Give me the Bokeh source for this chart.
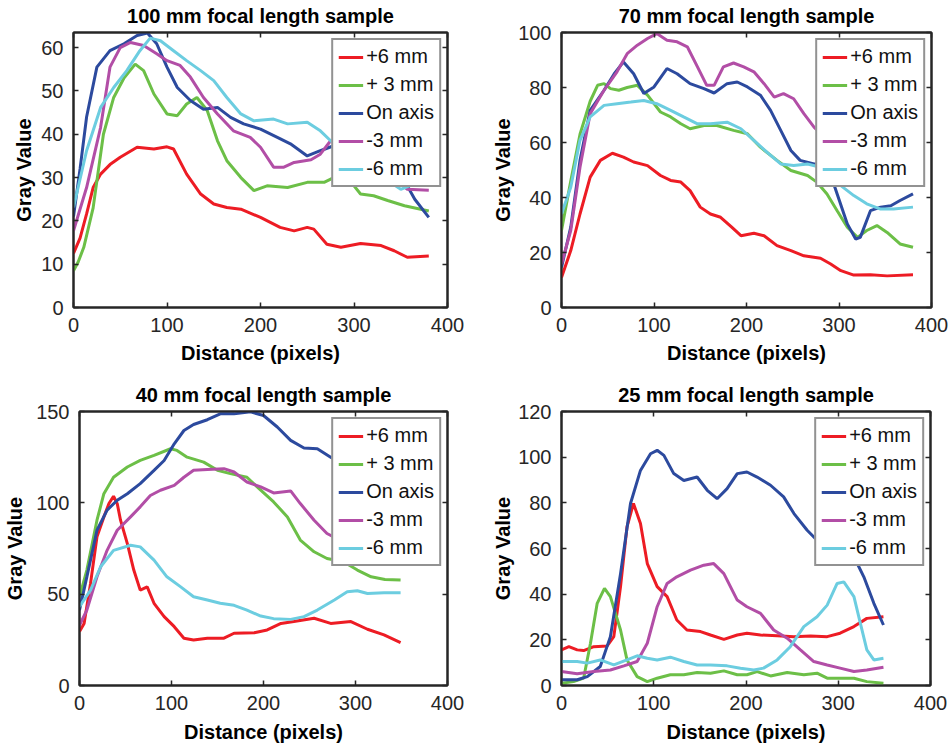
from bokeh.plotting import figure
from bokeh.layouts import column, row
from bokeh.models import Range1d, SingleIntervalTicker, LinearAxis, CustomJSTickFormatter
from bokeh.embed import file_html
from bokeh.resources import INLINE

# ---------------- data ----------------
labels = ["+6 mm", "+ 3 mm", "On axis", "-3 mm", "-6 mm"]
colors = ["#ed1c24", "#6cbf47", "#2c4a9e", "#b24ea6", "#6ccde0"]

# 100 mm
f100_p6_x = [0, 7, 14, 21, 29, 39, 50, 68, 86, 100, 107, 121, 136, 150, 164, 179, 200, 221, 236, 250, 257, 271, 286, 307, 329, 343, 357, 380]
f100_p6_y = [12.5, 16, 21.6, 27.7, 30.8, 33, 34.7, 37, 36.6, 37.1, 36.6, 30.8, 26.2, 23.9, 23.1, 22.7, 20.8, 18.5, 17.7, 18.5, 18.1, 14.6, 13.9, 14.8, 14.3, 13.1, 11.6, 11.9]
f100_p3_x = [0, 5, 11, 21, 32, 43, 54, 66, 75, 86, 100, 111, 121, 132, 143, 154, 164, 179, 193, 207, 229, 250, 268, 286, 293, 307, 321, 336, 354, 380]
f100_p3_y = [8.5, 10.5, 13.9, 23, 40, 48.5, 53, 56.2, 54.7, 49.3, 44.7, 44.3, 47, 48.5, 45.5, 38.5, 33.9, 30, 27, 28.1, 27.7, 28.9, 28.9, 30.8, 30, 26.2, 25.8, 24.7, 23.5, 22.3]
f100_on_x = [0, 7, 14, 25, 39, 54, 68, 79, 89, 100, 111, 125, 139, 154, 168, 182, 200, 218, 232, 250, 264, 279, 300, 325, 340, 350, 365, 380]
f100_on_y = [21, 32, 44, 55.5, 59.3, 60.9, 62.8, 63.4, 60.9, 55.5, 50.8, 47.8, 45.8, 46.2, 43.9, 42.4, 41.2, 39.3, 37.8, 35, 36.2, 37.4, 37.5, 36, 33.5, 30.8, 25, 20.8]
f100_m3_x = [0, 14, 29, 39, 50, 61, 75, 89, 100, 114, 125, 139, 154, 171, 189, 200, 214, 225, 236, 254, 264, 275, 290, 310, 330, 346, 357, 380]
f100_m3_y = [17.7, 27.7, 41.6, 55.5, 60, 61.2, 60.5, 58.6, 57, 55.9, 53.2, 48.5, 44.7, 40.8, 39.3, 37, 32.4, 32.4, 33.5, 34.1, 35.4, 38.5, 38, 35, 31.5, 29.3, 27.3, 27.1]
f100_m6_x = [0, 14, 29, 43, 57, 71, 82, 93, 107, 121, 136, 150, 164, 179, 193, 214, 229, 250, 264, 275, 295, 314, 336, 350, 364, 380]
f100_m6_y = [23.1, 36.2, 46.2, 50.8, 54.7, 59.3, 62.2, 61.6, 59.3, 57, 54.7, 52.4, 48.5, 44.7, 43.1, 43.5, 42.4, 42.8, 40.8, 38.5, 34.5, 30.8, 29.3, 27.3, 28.5, 30]

# 70 mm
f70_p6_x = [0, 10, 20, 31, 42, 55, 67, 78, 93, 107, 118, 129, 139, 150, 161, 172, 184, 194, 208, 219, 233, 248, 262, 280, 291, 302, 316, 334, 352, 380]
f70_p6_y = [10.9, 20.7, 34, 47.4, 53.5, 56.1, 54.7, 52.9, 51.6, 48, 46.2, 45.6, 42.5, 36.5, 34, 32.8, 29.2, 26.1, 27, 26.1, 22.5, 20.7, 18.8, 17.9, 15.8, 13.4, 11.8, 11.9, 11.5, 11.9]
f70_p3_x = [0, 10, 20, 31, 39, 46, 53, 62, 71, 82, 93, 107, 118, 129, 139, 154, 168, 186, 201, 215, 233, 248, 266, 276, 287, 298, 309, 320, 330, 341, 352, 366, 380]
f70_p3_y = [28, 46, 63, 75, 80.8, 81.4, 79.6, 79, 80, 80.8, 77.2, 71.1, 69.3, 66.8, 65, 66.2, 66.2, 64.4, 63.2, 58.3, 53.5, 49.8, 48, 45.6, 41.3, 35.2, 29.2, 25.5, 28, 29.8, 27.3, 23.1, 21.9]
f70_on_x = [0, 10, 20, 31, 46, 57, 67, 78, 89, 100, 114, 125, 139, 154, 165, 179, 190, 201, 215, 226, 237, 248, 258, 273, 287, 298, 309, 318, 323, 334, 345, 356, 366, 380]
f70_on_y = [14.6, 29.2, 53.5, 71.7, 79, 85, 89.3, 85, 77.8, 80.2, 86.9, 85, 81.4, 79.6, 78, 81.4, 82, 80.2, 77.2, 71.7, 64.4, 57.1, 53.5, 52.2, 52.2, 41.3, 30.4, 24.9, 25.5, 35.2, 36.5, 37, 38.9, 41.3]
f70_m3_x = [0, 10, 20, 31, 46, 60, 71, 82, 93, 103, 114, 125, 136, 147, 157, 165, 175, 186, 197, 208, 219, 230, 240, 251, 262, 273, 290, 310, 330, 341, 355, 370, 380]
f70_m3_y = [15.8, 28, 51, 70.5, 79, 85.7, 92.3, 95.4, 97.8, 99.6, 97.2, 96.6, 94.8, 87.5, 80.8, 80.8, 87.5, 88.9, 87.5, 85.7, 81.4, 76.5, 77.8, 75.9, 70.5, 65.6, 60, 55, 51, 50, 53, 56, 58]
f70_m6_x = [0, 10, 20, 31, 46, 60, 75, 89, 103, 118, 132, 147, 161, 179, 194, 208, 222, 237, 251, 266, 280, 291, 302, 316, 330, 345, 359, 380]
f70_m6_y = [34, 43.7, 60.8, 69.3, 73.5, 74.1, 74.7, 75.3, 74.1, 71.7, 69.3, 66.8, 66.8, 67.4, 65, 60.8, 56.5, 52.2, 51.6, 52.2, 51, 48.6, 44.3, 40.7, 37.7, 35.8, 35.8, 36.5]

# 40 mm
f40_p6_x = [0, 5, 12, 19, 26.5, 32, 37, 41, 44.6, 52, 59, 66, 73.6, 81, 92, 103, 113.5, 124, 139, 157, 168, 190, 204, 219, 233, 255, 273, 295, 313, 331, 349]
f40_p6_y = [29.5, 34, 55.9, 81.4, 92.3, 99.6, 103.6, 99.6, 90.5, 77.7, 63.2, 52.2, 54, 45, 37.7, 32.2, 25.9, 24.9, 25.9, 25.9, 28.6, 28.9, 30.4, 34, 35, 36.8, 34, 35, 30.8, 27.7, 23.5]
f40_p3_x = [0, 8, 19, 26.5, 37, 52, 66, 81, 99, 106, 117, 135, 150, 164, 182, 197, 211, 226, 240, 255, 269, 287, 302, 317, 332, 349]
f40_p3_y = [48.6, 63.2, 90.5, 105, 114, 119.6, 123.2, 126, 129.6, 128.7, 125, 122.3, 117.8, 116, 114, 106.9, 100.5, 92.3, 79.6, 73.2, 69.5, 67.7, 63.2, 59.5, 58, 57.7]
f40_on_x = [0, 8, 19, 30, 41, 52, 66, 81, 92, 103, 113.5, 124, 139, 153, 168, 186, 200, 215, 229.5, 244, 258.5, 273, 290, 310, 330, 349]
f40_on_y = [41.3, 59.5, 85, 96, 101.4, 105, 110.5, 117.8, 123.2, 132.3, 139.6, 142.9, 145.5, 148.7, 148.7, 149.8, 147.8, 141.5, 134.2, 130, 129.6, 125, 120, 115, 110, 105]
f40_m3_x = [0, 8, 19, 30, 41, 55.5, 66, 77, 88, 103, 113.5, 124, 139, 157, 168, 182, 197, 211, 229.5, 240, 255, 269, 285, 310, 330, 349]
f40_m3_y = [33, 41.3, 59.5, 74, 85, 92.3, 97.8, 104, 106.9, 109.6, 114, 117.8, 118.3, 118.7, 116.9, 111.4, 108.7, 105.4, 106.5, 99.6, 90.5, 83.2, 79, 77, 76, 75]
f40_m6_x = [0, 12, 23, 37, 55.5, 66, 81, 95, 110, 124, 139, 153, 168, 182, 197, 211, 229.5, 244, 258.5, 277, 291, 302, 313, 331, 349]
f40_m6_y = [43.1, 52.2, 65, 74, 76.8, 75.9, 68.6, 59.5, 54, 48.6, 46.8, 45, 43.9, 41.3, 38, 36.6, 36.2, 37.7, 41.3, 46.8, 51.3, 51.9, 50.4, 50.8, 50.8]

# 25 mm
f25_p6_x = [0, 8, 17, 24, 35, 49.5, 56.7, 64, 71, 78, 85.6, 93, 103.7, 114.5, 125, 136, 150.7, 161.5, 176, 190.5, 201, 215.7, 233.8, 251.9, 270, 288, 302, 317, 331, 349]
f25_p6_y = [15.6, 17, 15.6, 15.3, 17, 17.3, 21.4, 43.3, 69.5, 79.7, 70.9, 53.4, 43.3, 38.9, 28.7, 24.3, 23.6, 22.1, 20.2, 22.1, 22.9, 22.1, 21.8, 21.4, 21.7, 21.4, 22.9, 25.8, 29.4, 30.1]
f25_p3_x = [0, 13, 24, 31.4, 38.7, 46.6, 53, 64, 71, 82, 93, 103.7, 118, 132.6, 147, 161.5, 176, 190.5, 201, 212, 226.6, 244.6, 262.7, 277, 288, 302, 317, 331, 349]
f25_p3_y = [1, 1.7, 3.2, 18.5, 36, 42.5, 38.9, 24.3, 11.2, 3.9, 1.7, 3.2, 4.7, 4.7, 5.7, 5.4, 6.4, 4.7, 4.7, 6.1, 4.2, 5.7, 4.7, 5.4, 3.2, 3.2, 3.2, 1.7, 1]
f25_on_x = [0, 17, 28, 42, 53, 64, 74.8, 85.6, 96.5, 103.7, 111, 121.7, 132.6, 147, 158, 168.7, 179.5, 190.5, 201, 212, 226.6, 240.8, 252, 266.3, 277, 288, 302, 317, 327.7, 338.6, 349]
f25_on_y = [2.5, 2.5, 3.9, 8.3, 21.4, 49, 79.7, 94.2, 101.5, 103, 100.8, 92.8, 89.8, 91.3, 85.5, 81.8, 86.2, 92.8, 93.5, 91.3, 87.7, 82.6, 75.3, 68, 63.6, 61.5, 59.3, 56.4, 47.6, 36, 26.5]
f25_m3_x = [0, 17, 35, 53, 67.6, 82, 93, 103.7, 114.5, 125, 139.8, 154.3, 165, 176, 190.5, 201, 215.7, 230, 244.6, 259, 273.5, 288, 302, 317, 331, 349]
f25_m3_y = [6.1, 5.1, 6.1, 6.8, 8.6, 10.5, 18.5, 34.5, 44.7, 47.6, 50.5, 52.7, 53.4, 49, 37.4, 34.5, 31.6, 24.3, 20.7, 15.6, 10.5, 9, 7.6, 6.1, 6.8, 8]
f25_m6_x = [0, 17, 28, 42, 56.7, 71, 82, 93, 103.7, 118, 132.6, 147, 161.5, 179.5, 194, 208.5, 219, 233.8, 248, 262.7, 277, 288, 298.8, 306, 317, 324, 331, 338.6, 349]
f25_m6_y = [10.5, 10.5, 9.8, 11.2, 9, 11.2, 13, 11.9, 11.2, 12.4, 10.5, 9, 9, 8.6, 7.6, 6.8, 7.6, 11.2, 17, 25.8, 30.1, 35.2, 44.7, 45.4, 38.9, 27.2, 15.6, 11.2, 11.9]

titles = ["100 mm focal length sample", "70 mm focal length sample",
          "40 mm focal length sample", "25 mm focal length sample"]
y_max = [63.5, 100, 150, 120]
y_step = [10, 20, 50, 20]
x_ticks_step = 100

FONT = "Liberation Sans"
AX = "#262626"


def make_panel(title, series, ymax, ystep, width, height, bl, br, bt, bb, ylab_standoff, xlab_standoff):
    p = figure(width=width, height=height, output_backend="svg", toolbar_location=None,
               x_range=Range1d(0, 400), y_range=Range1d(0, ymax),
               min_border_left=bl, min_border_right=br, min_border_top=bt, min_border_bottom=bb,
               background_fill_color="white", border_fill_color="white")
    p.grid.visible = False
    p.outline_line_color = AX
    p.outline_line_width = 2
    p.title.text = title
    p.title.text_font = FONT
    p.title.text_font_size = "20px"
    p.title.text_font_style = "bold"
    p.title.text_color = "black"
    p.title.align = "center"
    p.title.standoff = 4

    p.xaxis.ticker = SingleIntervalTicker(interval=x_ticks_step)
    p.yaxis.ticker = SingleIntervalTicker(interval=ystep)
    for ax in (p.xaxis[0], p.yaxis[0]):
        ax.axis_line_color = AX
        ax.axis_line_width = 2
        ax.major_tick_in = 5
        ax.major_tick_out = 0
        ax.major_tick_line_color = AX
        ax.major_tick_line_width = 1.5
        ax.minor_tick_line_color = None
        ax.major_label_text_font = FONT
        ax.major_label_text_font_size = "20px"
        ax.major_label_text_color = AX
        ax.axis_label_text_font = FONT
        ax.axis_label_text_font_size = "20px"
        ax.axis_label_text_font_style = "bold"
        ax.axis_label_text_color = "black"
    p.xaxis.axis_label = "Distance (pixels)"
    p.xaxis.major_label_standoff = 6
    p.xaxis.axis_label_standoff = xlab_standoff
    p.yaxis.axis_label = "Gray Value"
    p.yaxis.major_label_standoff = 6
    p.yaxis.axis_label_standoff = ylab_standoff

    # mirrored ticks on top and right (no labels)
    for loc, step in (("above", x_ticks_step), ("right", ystep)):
        a = LinearAxis(ticker=SingleIntervalTicker(interval=step),
                       formatter=CustomJSTickFormatter(code="return ''"))
        a.major_label_standoff = 0
        a.major_tick_in = 5
        a.major_tick_out = 0
        a.major_tick_line_color = AX
        a.major_tick_line_width = 1.5
        a.minor_tick_line_color = None
        a.axis_line_color = AX
        a.axis_line_width = 2
        p.add_layout(a, loc)

    for (xs, ys), lab, col in zip(series, labels, colors):
        p.line(xs, ys, line_color=col, line_width=3, legend_label=lab)

    lg = p.legend[0]
    lg.location = "top_right"
    lg.margin = 6
    lg.padding = 5
    lg.spacing = 5
    lg.glyph_width = 25
    lg.glyph_height = 20
    lg.label_height = 20
    lg.label_standoff = 3
    lg.label_text_font = FONT
    lg.label_text_font_size = "20px"
    lg.label_text_color = "#111111"
    lg.border_line_color = AX
    lg.border_line_width = 2
    lg.background_fill_color = "white"
    lg.background_fill_alpha = 1.0
    return p


s100 = [(f100_p6_x, f100_p6_y), (f100_p3_x, f100_p3_y), (f100_on_x, f100_on_y), (f100_m3_x, f100_m3_y), (f100_m6_x, f100_m6_y)]
s70 = [(f70_p6_x, f70_p6_y), (f70_p3_x, f70_p3_y), (f70_on_x, f70_on_y), (f70_m3_x, f70_m3_y), (f70_m6_x, f70_m6_y)]
s40 = [(f40_p6_x, f40_p6_y), (f40_p3_x, f40_p3_y), (f40_on_x, f40_on_y), (f40_m3_x, f40_m3_y), (f40_m6_x, f40_m6_y)]
s25 = [(f25_p6_x, f25_p6_y), (f25_p3_x, f25_p3_y), (f25_on_x, f25_on_y), (f25_m3_x, f25_m3_y), (f25_m6_x, f25_m6_y)]

p1 = make_panel(titles[0], s100, y_max[0], y_step[0], 470, 370, 73, 23, 32, 63, 3, 7)
p2 = make_panel(titles[1], s70, y_max[1], y_step[1], 479, 370, 91, 18, 32, 63, 1, 7)
p3 = make_panel(titles[2], s40, y_max[2], y_step[2], 470, 375, 79, 23, 41, 59, 7, 8)
p4 = make_panel(titles[3], s25, y_max[3], y_step[3], 479, 375, 91, 19, 41, 59, 1, 8)

layout = column(row(p1, p2, spacing=0), row(p3, p4, spacing=0), spacing=0)
p = layout
open("out.html", "w").write(file_html(p, INLINE))
